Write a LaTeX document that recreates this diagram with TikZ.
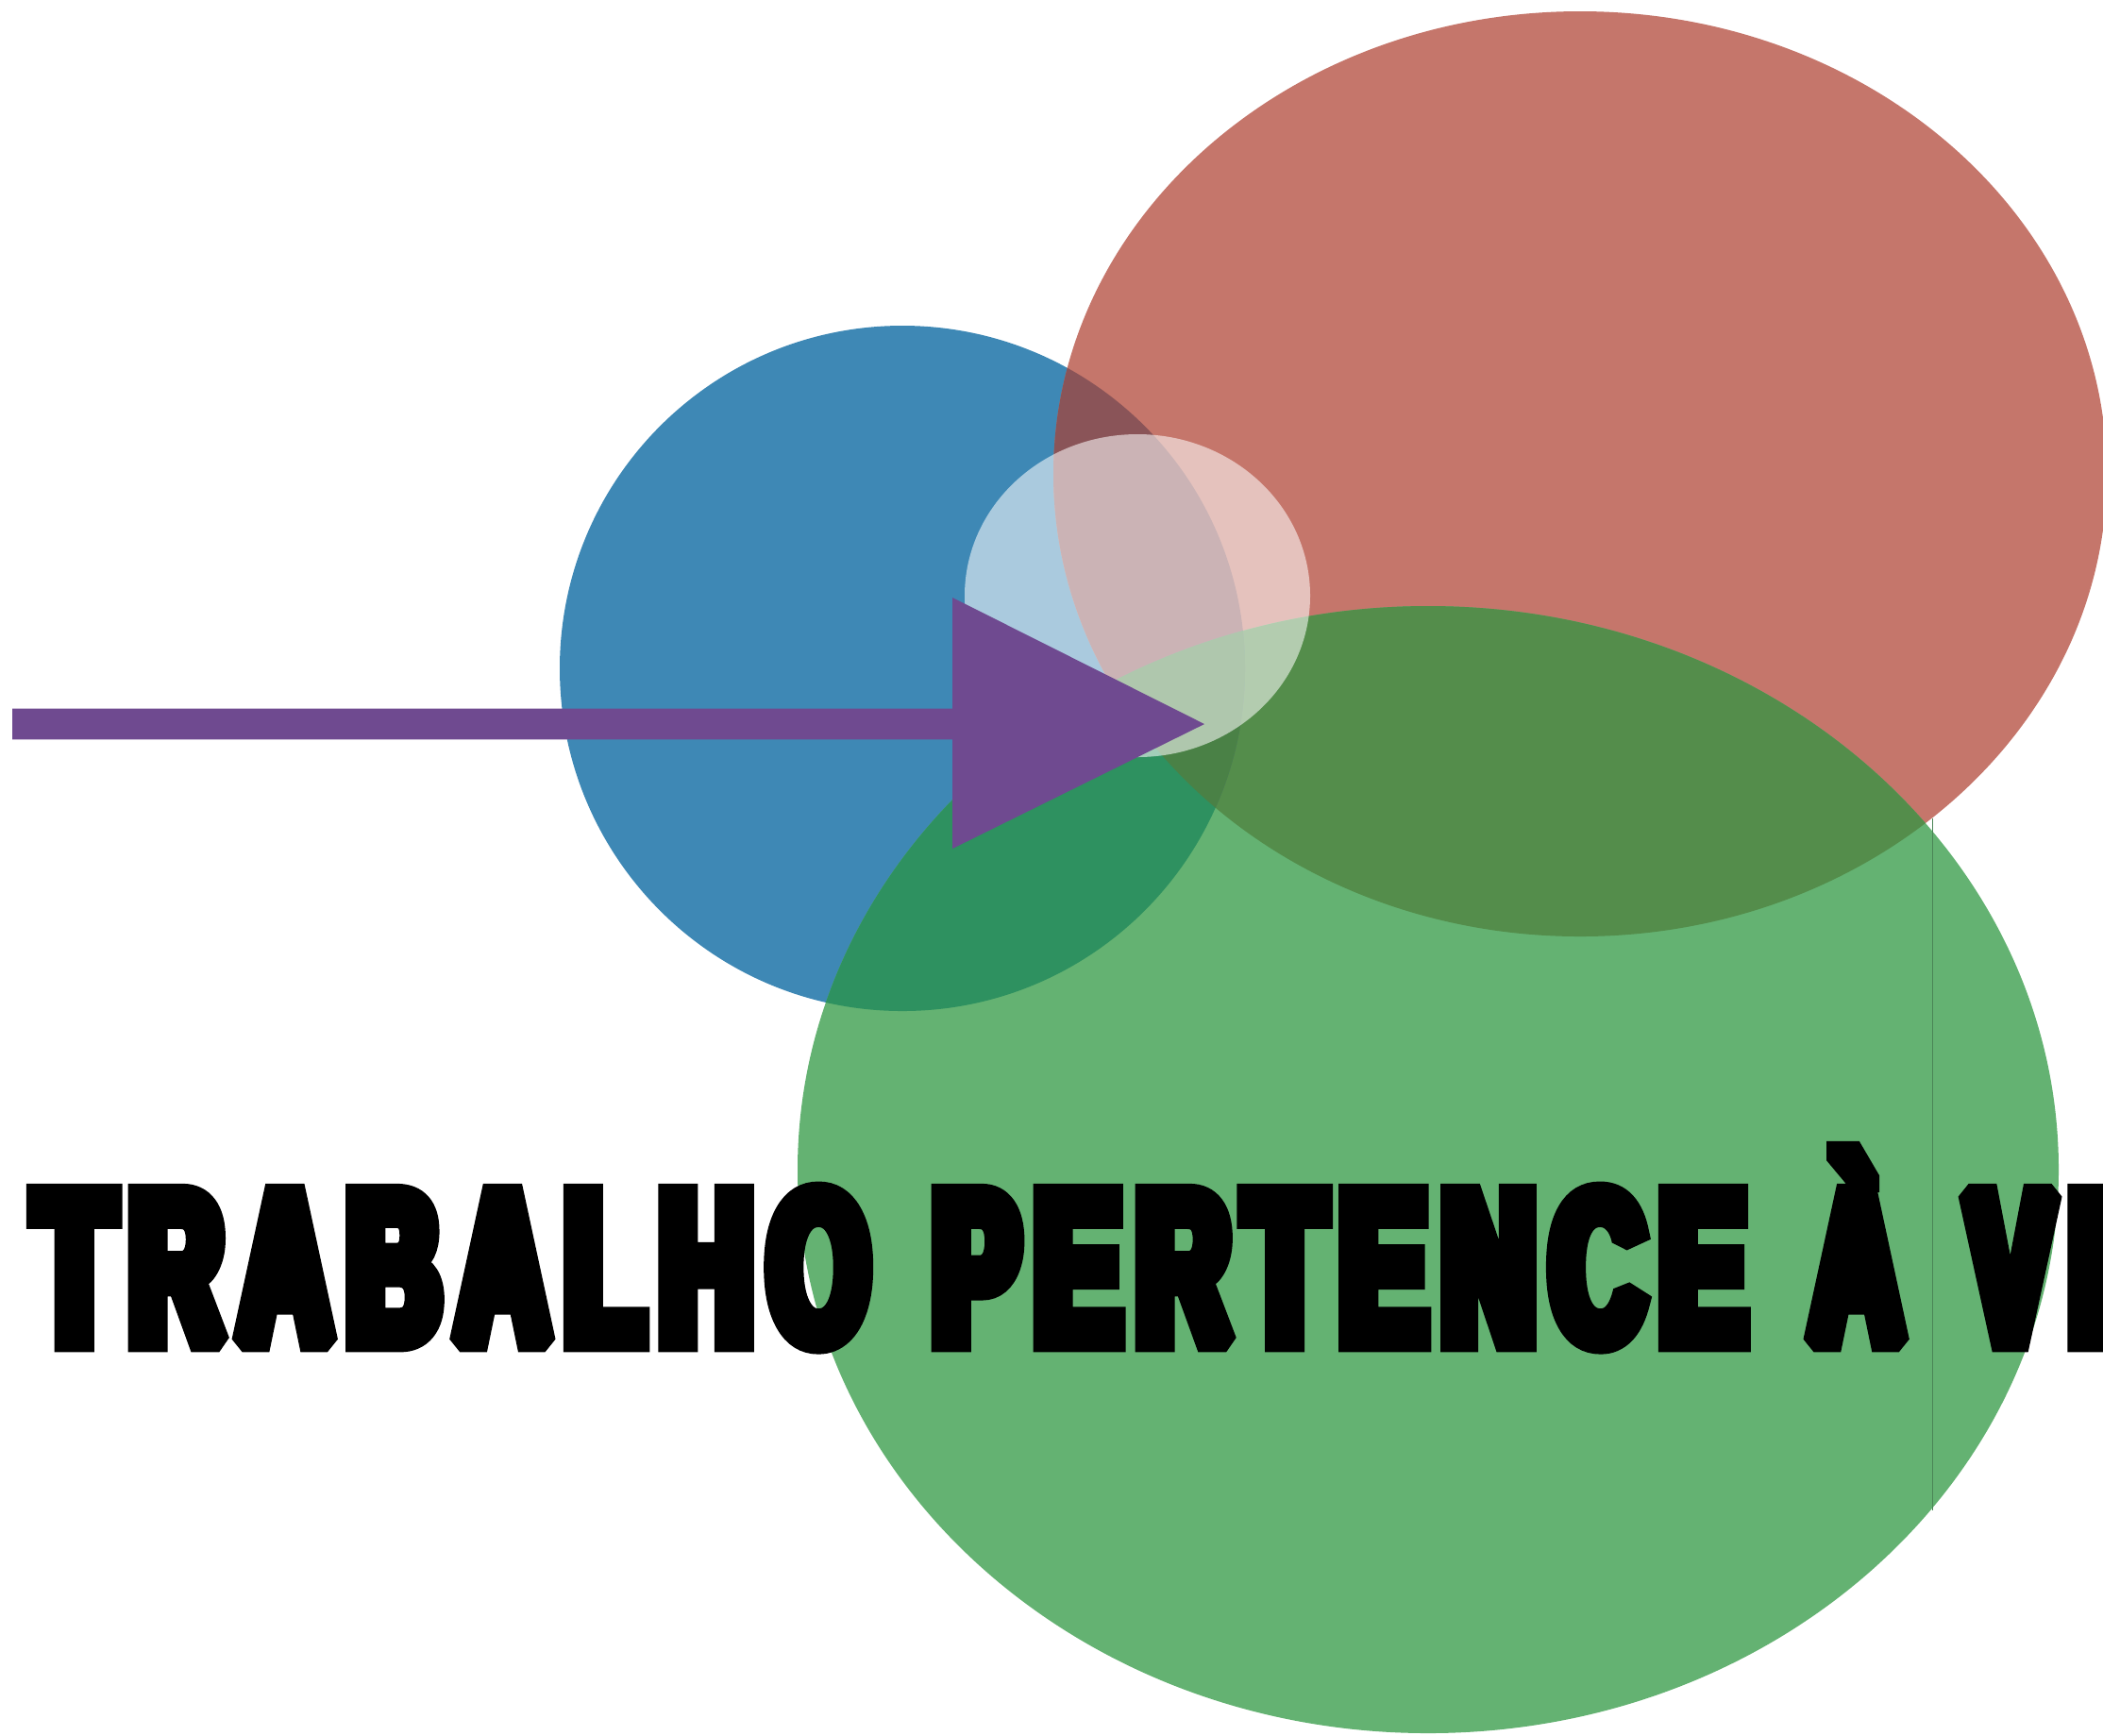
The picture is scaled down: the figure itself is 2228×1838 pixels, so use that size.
\documentclass[tikz,border=0pt]{standalone}
\usepackage{fontspec}
\newfontfamily\bannerfont[FakeStretch=0.593,FakeBold=10,LetterSpace=8.1,WordSpace=1.25]{Liberation Sans}
\usetikzlibrary{calc}
\definecolor{discblue}{HTML}{3E88B5}
\definecolor{discred}{HTML}{C5766B}
\definecolor{discgreen}{HTML}{64B272}
\definecolor{bluered}{HTML}{8A5458}
\definecolor{bluegreen}{HTML}{2E9160}
\definecolor{redgreen}{HTML}{548D4B}
\definecolor{allthree}{HTML}{4A8146}
\definecolor{arrowpurple}{HTML}{6F4A90}

\begin{document}
\begin{tikzpicture}[x=0.01cm,y=-0.01cm,line join=miter,miter limit=1.5]

\tikzset{bluefill/.style={fill=discblue},redfill/.style={fill=discred},greenfill/.style={fill=discgreen},
blueredfill/.style={fill=bluered},bluegreenfill/.style={fill=bluegreen},redgreenfill/.style={fill=redgreen},
triplefill/.style={fill=allthree},glowfill/.style={fill=white,fill opacity=.56},
arrowfill/.style={fill=arrowpurple},seamline/.style={draw=discgreen!75!black,line width=.3pt},
banner/.style={inner sep=0pt,line join=miter,miter limit=1.5,font=\bannerfont\bfseries\fontsize{64.4pt}{64.4pt}\selectfont}}

\useasboundingbox (0,0) rectangle (2228,1838);
\clip (0,0) rectangle (2228,1838);

% Centres
\coordinate (bc) at (956,708);
\coordinate (rc) at (1674,502);
\coordinate (gc) at (1513,1239);
\coordinate (wc) at (1205,631);

% Discs
\fill[bluefill] (bc) circle [radius=363];
\fill[redfill] (rc) ellipse [x radius=558, y radius=490];
\fill[greenfill] (gc) ellipse [x radius=668, y radius=597];

% Overlaps
\begin{scope}
\clip (rc) ellipse [x radius=558, y radius=490];
\fill[redgreenfill] (gc) ellipse [x radius=668, y radius=597];
\end{scope}
\begin{scope}
\clip (bc) circle [radius=363];
\fill[blueredfill] (rc) ellipse [x radius=558, y radius=490];
\fill[bluegreenfill] (gc) ellipse [x radius=668, y radius=597];
\clip (rc) ellipse [x radius=558, y radius=490];
\fill[triplefill] (gc) ellipse [x radius=668, y radius=597];
\end{scope}

% Seam
\draw[seamline] (2047,867) -- (2047,1600);

% White disc
\fill[glowfill] (wc) ellipse [x radius=183, y radius=171];

% Arrow
\coordinate (tail) at (13,767);
\coordinate (neck) at (1009,767);
\coordinate (tip) at (1276,767);
\fill[arrowfill] ($(tail)+(0,-16.3)$) -- ($(neck)+(0,-16.3)$) -- ($(neck)+(0,-134)$) -- (tip)
  -- ($(neck)+(0,132)$) -- ($(neck)+(0,16.3)$) -- ($(tail)+(0,16.3)$) -- cycle;

% Title
\node[banner,anchor=base west] (title) at (37,1421) {TRABALHO PERTENCE À VI};

\end{tikzpicture}
\end{document}
